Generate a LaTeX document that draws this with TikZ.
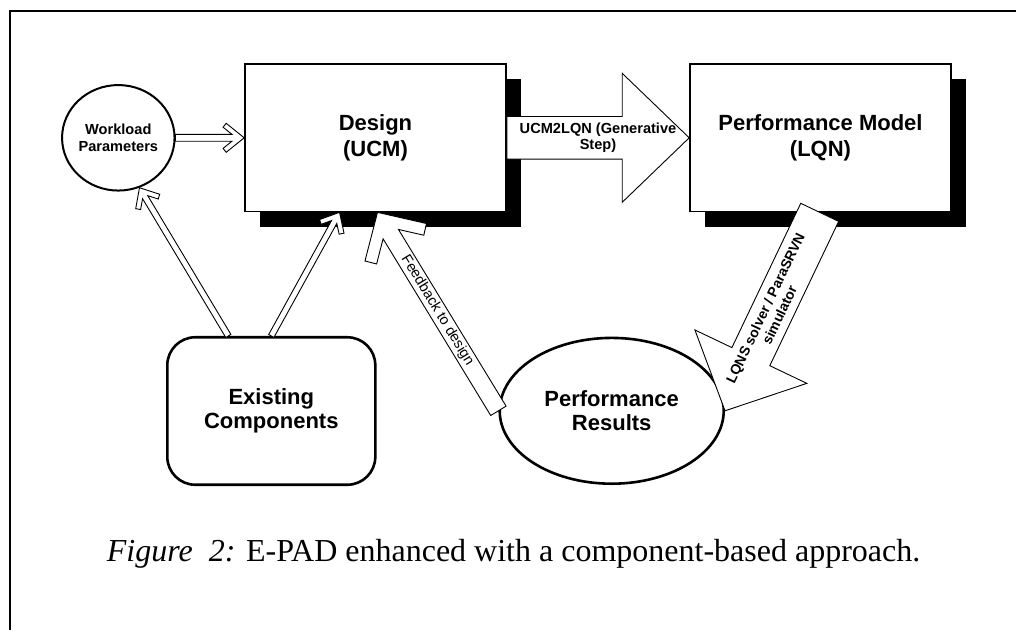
\documentclass[tikz,border=0pt]{standalone}
\usepackage{fontspec}
\setmainfont{Liberation Serif}
\newfontfamily\arialf{Liberation Sans}
\usetikzlibrary{shapes.geometric,shadows,calc}

\newcommand\bigf{\arialf\bfseries\fontsize{22}{26}\selectfont}
\newcommand\bigfb{\arialf\bfseries\fontsize{22}{24.4}\selectfont}
\newcommand\midf{\arialf\bfseries\fontsize{14.6}{16.4}\selectfont}
\newcommand\lqf{\arialf\bfseries\fontsize{14}{15.8}\selectfont}
\newcommand\fbf{\arialf\fontsize{14.5}{16}\selectfont}

\newcommand\getframe[2]{%
  \path (#1); \pgfgetlastxy{\faX}{\faY}%
  \path (#2); \pgfgetlastxy{\fbX}{\fbY}%
  \pgfmathsetmacro\frdx{\fbX-\faX}%
  \pgfmathsetmacro\frdy{\fbY-\faY}%
  \pgfmathsetmacro\frang{atan2(\frdy,\frdx)}%
  \pgfmathsetmacro\frlen{veclen(\frdx,\frdy)}%
}
% hollow chevron arrow: from, to, shaft half width, head length, head half width, arm thickness
\newcommand\chevarrow[6]{%
  \getframe{#1}{#2}%
  \pgfmathsetmacro\chn{veclen(#4,#5)}%
  \pgfmathsetmacro\chPx{\frlen-#4-#6*#5/\chn}%
  \pgfmathsetmacro\chPy{#5-#6*#4/\chn}%
  \pgfmathsetmacro\chQx{\chPx+(\chPy-#3)/#5*#4}%
  \pgfmathsetmacro\chBx{\frlen-#4}%
  \begin{scope}[shift={(#1)},rotate=\frang]
    \draw[arrowline] (0,#3) -- (\chQx,#3) -- (\chPx,\chPy) -- (\chBx,#5) -- (\frlen,0)
      -- (\chBx,-#5) -- (\chPx,-\chPy) -- (\chQx,-#3) -- (0,-#3) -- cycle;
  \end{scope}}
% block arrow: from, to, shaft half width, head length, head half width
\newcommand\blockarrow[5]{%
  \getframe{#1}{#2}%
  \pgfmathsetmacro\chBx{\frlen-#4}%
  \begin{scope}[shift={(#1)},rotate=\frang]
    \draw[arrowline] (0,#3) -- (\chBx,#3) -- (\chBx,#5) -- (\frlen,0)
      -- (\chBx,-#5) -- (\chBx,-#3) -- (0,-#3) -- cycle;
  \end{scope}}

\tikzset{
  arrowline/.style={draw=black, fill=white, line width=0.9pt, line join=miter},
  boxnode/.style={draw, line width=1.6pt, fill=white, minimum width=261pt,
    minimum height=147.5pt, inner sep=0pt, align=center, font=\bigf,
    general shadow={fill=black, shadow xshift=15pt, shadow yshift=-15pt}},
  wpnode/.style={ellipse, draw, line width=2pt, fill=white, minimum width=111.5pt,
    minimum height=105.5pt, inner sep=0pt, align=center, font=\midf},
  ecnode/.style={draw, line width=2.6pt, fill=white, rounded corners=28pt,
    minimum width=208pt, minimum height=147.5pt, inner sep=0pt, align=center, font=\bigfb},
  prnode/.style={ellipse, draw, line width=2.6pt, fill=white, minimum width=224pt,
    minimum height=145.8pt, inner sep=0pt, align=center, font=\bigfb},
}

\begin{document}
\begin{tikzpicture}[x=1pt,y=1pt]
\useasboundingbox (0,0) rectangle (1016,-630);
\fill[white] (0,0) rectangle (1016,-630);
\draw[line width=2.5pt] (10,-630) -- (10,-11) -- (1016,-11);

\node[boxnode] (design) at (375.5,-137.8) {Design\\(UCM)};
\node[boxnode] (pm) at (820.5,-137.8) {Performance Model\\(LQN)};
\node[wpnode] (wp) at (118.3,-137.8) {Workload\\Parameters};
\node[ecnode] (ec) at (271.3,-411) {Existing\\Components};
\node[prnode] (pr) at (611.7,-410.8) {Performance\\Results};

\coordinate (a2s) at ($(ec.north)+(-43,0)$);
\coordinate (a3e) at ($(design.south)+(-36,0)$);
\coordinate (fbE) at ($(design.south)+(2,0)$);
\coordinate (lqS) at ($(pm.south)+(-0.8,0)$);

\chevarrow{wp.east}{design.west}{3.4}{18}{14.5}{5}
\chevarrow{a2s}{wp.-67}{3}{16}{14}{5}
\chevarrow{ec.north}{a3e}{3}{16}{14}{5}
\chevarrow{pr.west}{fbE}{9}{35}{36}{12}
\blockarrow{lqS}{pr.east}{21}{60}{62}
\blockarrow{design.east}{pm.west}{21.3}{67}{64.5}

\node[font=\midf, align=center] (ucmlbl) at ($(design.east)!0.5!(pm.west)$) {UCM2LQN (Generative\\Step)};
\path (fbE) -- (pr.west) node[pos=0.495, sloped, font=\fbf, inner sep=0pt] (fblbl) {Feedback to design};
\path (pr.east) -- (lqS) node[pos=0.5, sloped, font=\lqf, align=center, inner sep=0pt] (lqlbl) {LQNS solver / ParaSRVN\\simulator};

\node[anchor=base west, font=\fontsize{32}{36}\selectfont, inner sep=0pt] (cap) at (106.7,-561.7)
  {\textit{Figure\ \ 2:} E-PAD enhanced with a component-based approach.};
\end{tikzpicture}
\end{document}
